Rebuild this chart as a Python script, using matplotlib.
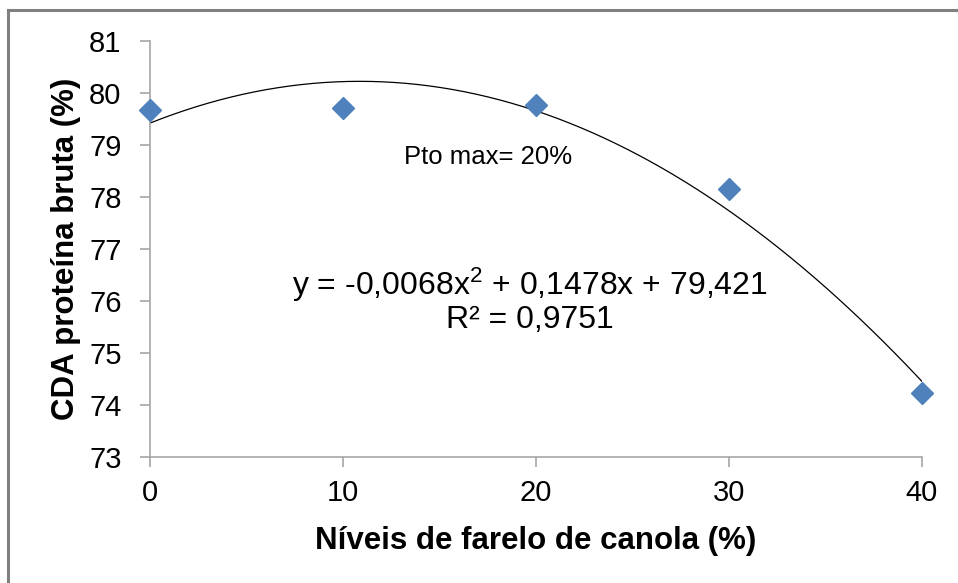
import matplotlib.pyplot as plt
import numpy as np

plt.rcParams['font.family'] = ['Liberation Sans', 'DejaVu Sans']
plt.rcParams['mathtext.fontset'] = 'custom'
plt.rcParams['mathtext.rm'] = 'Liberation Sans'
plt.rcParams['mathtext.it'] = 'Liberation Sans'

niveis = [0, 10, 20, 30, 40]
cda = [79.68, 79.71, 79.76, 78.15, 74.23]
coefs = [-0.0068, 0.1478, 79.421]  # trendline from the chart's equation

fig = plt.figure(figsize=(9.58, 5.83), dpi=100)
ax = fig.add_axes([0.1566, 0.2161, 0.8058, 0.7136])

# outer gray frame (only top and left visible in the reference)
fig.add_artist(plt.Line2D([8/958, 1.0], [1 - 10/583, 1 - 10/583], transform=fig.transFigure,
                          color='#808080', lw=2.2))
fig.add_artist(plt.Line2D([8/958, 8/958], [0, 1 - 10/583], transform=fig.transFigure,
                          color='#808080', lw=2.2))

xs = np.linspace(0, 40, 200)
ax.plot(xs, np.polyval(coefs, xs), color='black', lw=0.9, zorder=2)
ax.plot(niveis, cda, linestyle='none', marker='D', ms=11.5, color='#4F81BD', zorder=3, clip_on=False)

ax.set_xlim(0, 40)
ax.set_ylim(73, 81)
ax.set_xticks(niveis)
ax.set_yticks(range(73, 82))
for s in ['top', 'right']:
    ax.spines[s].set_visible(False)
for s in ['left', 'bottom']:
    ax.spines[s].set_color('#A6A6A6')
    ax.spines[s].set_linewidth(1.2)
ax.tick_params(axis='both', direction='out', length=7.5, width=1.2, color='#A6A6A6',
               labelsize=21)
ax.tick_params(axis='y', pad=13)
ax.tick_params(axis='x', pad=8)

ax.set_xlabel('Níveis de farelo de canola (%)', fontsize=22.5, fontweight='bold', labelpad=14)
ax.set_ylabel('CDA proteína bruta (%)', fontsize=22.5, fontweight='bold', labelpad=6)

ax.text(19.7, 76.31, 'y = -0,0068x$^2$ + 0,1478x + 79,421', ha='center', va='center', fontsize=23)
ax.text(19.7, 75.63, 'R² = 0,9751', ha='center', va='center', fontsize=23)
ax.text(17.5, 78.77, 'Pto max= 20%', ha='center', va='center', fontsize=18.5)

fig.savefig('out.png', dpi=100)
